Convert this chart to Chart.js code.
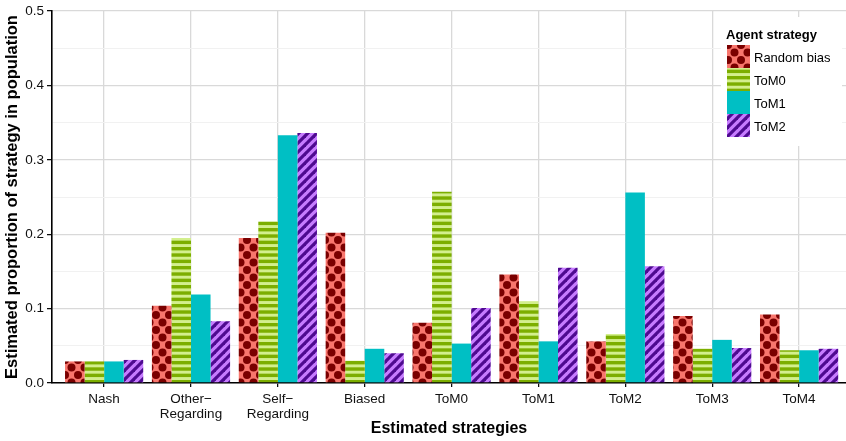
<!DOCTYPE html>
<html><head><meta charset="utf-8">
<script src="https://cdn.jsdelivr.net/npm/chart.js@4/dist/chart.umd.min.js"></script>
<style>html,body{margin:0;padding:0;background:#fff}#wrap{width:846px;height:441px;position:relative}</style>
</head><body><div id="wrap"><canvas id="c" width="846" height="441"></canvas></div>
<script>
// ---- data ----
const categories = ["Nash", ["Other\u2212", "Regarding"], ["Self\u2212", "Regarding"], "Biased", "ToM0", "ToM1", "ToM2", "ToM3", "ToM4"];
const seriesNames = ["Random bias", "ToM0", "ToM1", "ToM2"];
const randomBias = [0.029, 0.104, 0.195, 0.202, 0.081, 0.146, 0.056, 0.090, 0.092];
const tom0      = [0.029, 0.195, 0.217, 0.030, 0.257, 0.110, 0.066, 0.046, 0.044];
const tom1      = [0.029, 0.119, 0.333, 0.046, 0.053, 0.056, 0.256, 0.058, 0.044];
const tom2      = [0.031, 0.083, 0.336, 0.040, 0.101, 0.155, 0.157, 0.047, 0.046];
const yTickLabels = [0.0, 0.1, 0.2, 0.3, 0.4, 0.5];
const legendTitle = "Agent strategy";
const xTitle = "Estimated strategies";
const yTitle = "Estimated proportion of strategy in population";

// ---- patterns ----
function mk(w, h) { const c = document.createElement('canvas'); c.width = w; c.height = h; return c; }
const ctx0 = document.getElementById('c').getContext('2d');
function circlePattern() {
  const c = mk(13, 15), g = c.getContext('2d');
  g.fillStyle = '#F8766D'; g.fillRect(0, 0, 13, 15);
  g.fillStyle = '#7a0000';
  [[0,0],[13,0],[0,15],[13,15],[6.5,7.5]].forEach(p => { g.beginPath(); g.arc(p[0], p[1], 4.0, 0, Math.PI*2); g.fill(); });
  return ctx0.createPattern(c, 'repeat');
}
function hStripePattern() {
  const c = mk(8, 19), g = c.getContext('2d');
  g.fillStyle = '#d3ef8d'; g.fillRect(0, 0, 8, 19);
  g.fillStyle = '#7CAE00';
  for (let i = 0; i < 3; i++) g.fillRect(0, i * 19/3, 8, 3.4);
  return ctx0.createPattern(c, 'repeat');
}
function dStripePattern() {
  const s = 9, c = mk(s, s), g = c.getContext('2d');
  g.fillStyle = '#C77CFF'; g.fillRect(0, 0, s, s);
  g.strokeStyle = '#4e0a90'; g.lineWidth = 3.2;
  [[-s, s, s, -s], [0, s, s, 0], [0, 2*s, 2*s, 0]].forEach(l => { g.beginPath(); g.moveTo(l[0], l[1]); g.lineTo(l[2], l[3]); g.stroke(); });
  return ctx0.createPattern(c, 'repeat');
}
const fills = [circlePattern(), hStripePattern(), '#00BFC4', dStripePattern()];
const seriesValues = [randomBias, tom0, tom1, tom2];

const datasets = seriesNames.map((n, k) => ({
  label: n,
  data: seriesValues[k].map((v, i) => ({ x: i + 1, y: v })),
  backgroundColor: fills[k],
  borderWidth: 0,
  categoryPercentage: 0.9,
  barPercentage: 1.0
}));

const isMajor = v => Math.abs(v * 10 - Math.round(v * 10)) < 1e-6;

const legendPlugin = {
  id: 'customLegend',
  afterDraw(chart) {
    const g = chart.ctx;
    g.save();
    g.fillStyle = '#fff';
    g.fillRect(721, 17, 121, 129);
    g.fillStyle = '#000';
    g.font = 'bold 13px "Liberation Sans", Arial, sans-serif';
    g.textBaseline = 'middle'; g.textAlign = 'left';
    g.fillText(legendTitle, 726, 35);
    g.font = '13px "Liberation Sans", Arial, sans-serif';
    seriesNames.forEach((n, i) => {
      const y = 45 + 23 * i;
      g.fillStyle = fills[i];
      g.fillRect(727, y, 23, 23);
      g.fillStyle = '#000';
      g.fillText(n, 754, y + 13);
    });
    g.restore();
  }
};

new Chart(document.getElementById('c'), {
  type: 'bar',
  data: { datasets },
  plugins: [legendPlugin],
  options: {
    responsive: false,
    animation: false,
    devicePixelRatio: 1,
    layout: { padding: { left: 0, right: 0, top: 9, bottom: 0 } },
    plugins: { legend: { display: false }, tooltip: { enabled: false } },
    scales: {
      x: {
        type: 'linear',
        offset: false,
        min: 0.4, max: 9.54,
        afterBuildTicks: s => { s.ticks = categories.map((c, i) => ({ value: i + 1 })); },
        afterFit: s => { s.height = 58; },
        ticks: {
          autoSkip: false, maxRotation: 0, minRotation: 0, padding: 5,
          color: '#111',
          font: { family: '"Liberation Sans Narrow", "Liberation Sans", Arial, sans-serif', size: 13.5, lineHeight: 1.12 },
          callback: v => categories[Math.round(v) - 1]
        },
        grid: { offset: false, color: '#d9d9d9', lineWidth: 1.3, tickColor: '#000', tickLength: 4, tickWidth: 1.2 },
        border: { display: true, color: '#000', width: 1.6 },
        title: { display: true, text: xTitle, color: '#000',
          font: { family: '"Liberation Sans", Arial, sans-serif', size: 16, weight: 'bold' },
          padding: { top: 0, bottom: 3 } }
      },
      y: {
        min: 0, max: 0.5,
        afterBuildTicks: s => {
          const t = [];
          for (let i = 0; i <= 10; i++) t.push({ value: i * 0.05 });
          s.ticks = t;
        },
        afterFit: s => { s.width = 52; },
        ticks: {
          padding: 3, color: '#111',
          font: { family: '"Liberation Sans", Arial, sans-serif', size: 13.5 },
          callback: v => {
            if (!isMajor(v)) return '';
            const m = yTickLabels.find(t => Math.abs(t - v) < 1e-6);
            return m === undefined ? '' : m.toFixed(1);
          }
        },
        grid: {
          color: c => isMajor(c.tick.value) ? '#d9d9d9' : '#f1f1f1',
          lineWidth: c => isMajor(c.tick.value) ? 1.3 : 1,
          tickColor: c => isMajor(c.tick.value) ? '#000' : 'rgba(0,0,0,0)',
          tickLength: 5, tickWidth: 1.2
        },
        border: { display: true, color: '#000', width: 1.6 },
        title: { display: true, text: yTitle, color: '#000',
          font: { family: '"Liberation Sans", Arial, sans-serif', size: 16.5, weight: 'bold' },
          padding: { top: 3, bottom: 0 } }
      }
    }
  }
});
</script>
</body></html>
